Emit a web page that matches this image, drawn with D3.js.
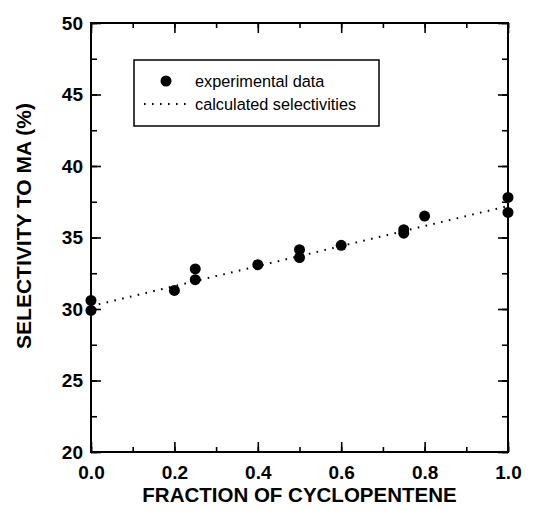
<!DOCTYPE html>
<html><head><meta charset="utf-8">
<script src="https://cdn.jsdelivr.net/npm/d3@7"></script>
<style>body{margin:0;background:#fff}svg{display:block}</style>
</head><body>
<script>
// Data
const fraction = [0.0, 0.0, 0.2, 0.25, 0.25, 0.4, 0.5, 0.5, 0.6, 0.75, 0.75, 0.8, 1.0, 1.0];
const selectivity = [30.6, 29.9, 31.3, 32.8, 32.05, 33.1, 34.15, 33.6, 34.45, 35.55, 35.3, 36.5, 37.8, 36.75];
const calcX = [0.0, 1.0];
const calcY = [30.2, 37.2];
const xTicks = [0, 0.2, 0.4, 0.6, 0.8, 1.0];
const yTicks = [20, 25, 30, 35, 40, 45, 50];
const legendLabels = ["experimental data", "calculated selectivities"];

const W = 537, H = 511;
const m = {left: 91, right: 537 - 508, top: 23, bottom: 511 - 452};
const FONT = "'Liberation Sans', Arial, sans-serif";
const svg = d3.select("body").append("svg").attr("width", W).attr("height", H)
  .style("font-family", FONT);
const g = svg.append("g").attr("transform", `translate(${m.left},${m.top})`);
const iw = W - m.left - m.right, ih = H - m.top - m.bottom;
const x = d3.scaleLinear().domain([0, 1]).range([0, iw]);
const y = d3.scaleLinear().domain([20, 50]).range([ih, 0]);

const xMinor = d3.range(0, 1.0001, 0.1);
const yMinor = d3.range(20, 50.001, 2.5);

function styleAxis(sel) {
  sel.select(".domain").remove();
  sel.selectAll("line").attr("stroke", "#000").attr("stroke-width", 1.6);
}
// minor ticks
g.append("g").attr("transform", `translate(0,${ih})`).call(d3.axisBottom(x).tickValues(xMinor).tickSize(-5).tickFormat("")).call(styleAxis);
g.append("g").call(d3.axisTop(x).tickValues(xMinor).tickSize(-5).tickFormat("")).call(styleAxis);
g.append("g").call(d3.axisLeft(y).tickValues(yMinor).tickSize(-6).tickFormat("")).call(styleAxis);
g.append("g").attr("transform", `translate(${iw},0)`).call(d3.axisRight(y).tickValues(yMinor).tickSize(-6).tickFormat("")).call(styleAxis);
// major ticks
const xAx = g.append("g").attr("transform", `translate(0,${ih})`)
  .call(d3.axisBottom(x).tickValues(xTicks).tickSize(-10).tickPadding(14).tickFormat(d3.format(".1f"))).call(styleAxis);
g.append("g").call(d3.axisTop(x).tickValues(xTicks).tickSize(-10).tickFormat("")).call(styleAxis);
const yAx = g.append("g").call(d3.axisLeft(y).tickValues(yTicks).tickSize(-10).tickPadding(8).tickFormat(d3.format("d"))).call(styleAxis);
g.append("g").attr("transform", `translate(${iw},0)`).call(d3.axisRight(y).tickValues(yTicks).tickSize(-10).tickFormat("")).call(styleAxis);
[xAx, yAx].forEach(a => a.selectAll("text").attr("fill", "#000").style("font-size", "19px").style("font-weight", "bold").style("font-family", FONT));
// frame
g.append("rect").attr("width", iw).attr("height", ih).attr("fill", "none").attr("stroke", "#000").attr("stroke-width", 2);

// calculated line
const line = d3.line().x((d, i) => x(calcX[i])).y(d => y(d));
g.append("path").datum(calcY).attr("d", line).attr("fill", "none").attr("stroke", "#000")
  .attr("stroke-width", 2).attr("stroke-dasharray", "1.6,6.4").attr("stroke-linecap", "butt");
// points
g.selectAll("circle.pt").data(fraction).join("circle").attr("class", "pt")
  .attr("cx", d => x(d)).attr("cy", (d, i) => y(selectivity[i])).attr("r", 5.5).attr("fill", "#000");

// legend
const lg = svg.append("g");
lg.append("rect").attr("x", 134).attr("y", 60).attr("width", 245).attr("height", 66)
  .attr("fill", "#fff").attr("stroke", "#000").attr("stroke-width", 1.5);
lg.append("circle").attr("cx", 166).attr("cy", 81).attr("r", 5.5).attr("fill", "#000");
lg.append("line").attr("x1", 144).attr("x2", 186).attr("y1", 104).attr("y2", 104)
  .attr("stroke", "#000").attr("stroke-width", 2).attr("stroke-dasharray", "1.6,6.4");
lg.selectAll("text").data(legendLabels).join("text")
  .attr("x", 195).attr("y", (d, i) => 87 + i * 23).text(d => d)
  .style("font-size", "16.3px").attr("fill", "#000");

// axis titles
svg.append("text").attr("x", m.left + iw / 2).attr("y", 502).attr("text-anchor", "middle")
  .style("font-size", "20.5px").style("font-weight", "bold").text("FRACTION OF CYCLOPENTENE");
svg.append("text").attr("transform", `translate(31,226) rotate(-90)`).attr("text-anchor", "middle")
  .style("font-size", "21px").style("font-weight", "bold").text("SELECTIVITY TO MA (%)");
</script>
</body></html>
